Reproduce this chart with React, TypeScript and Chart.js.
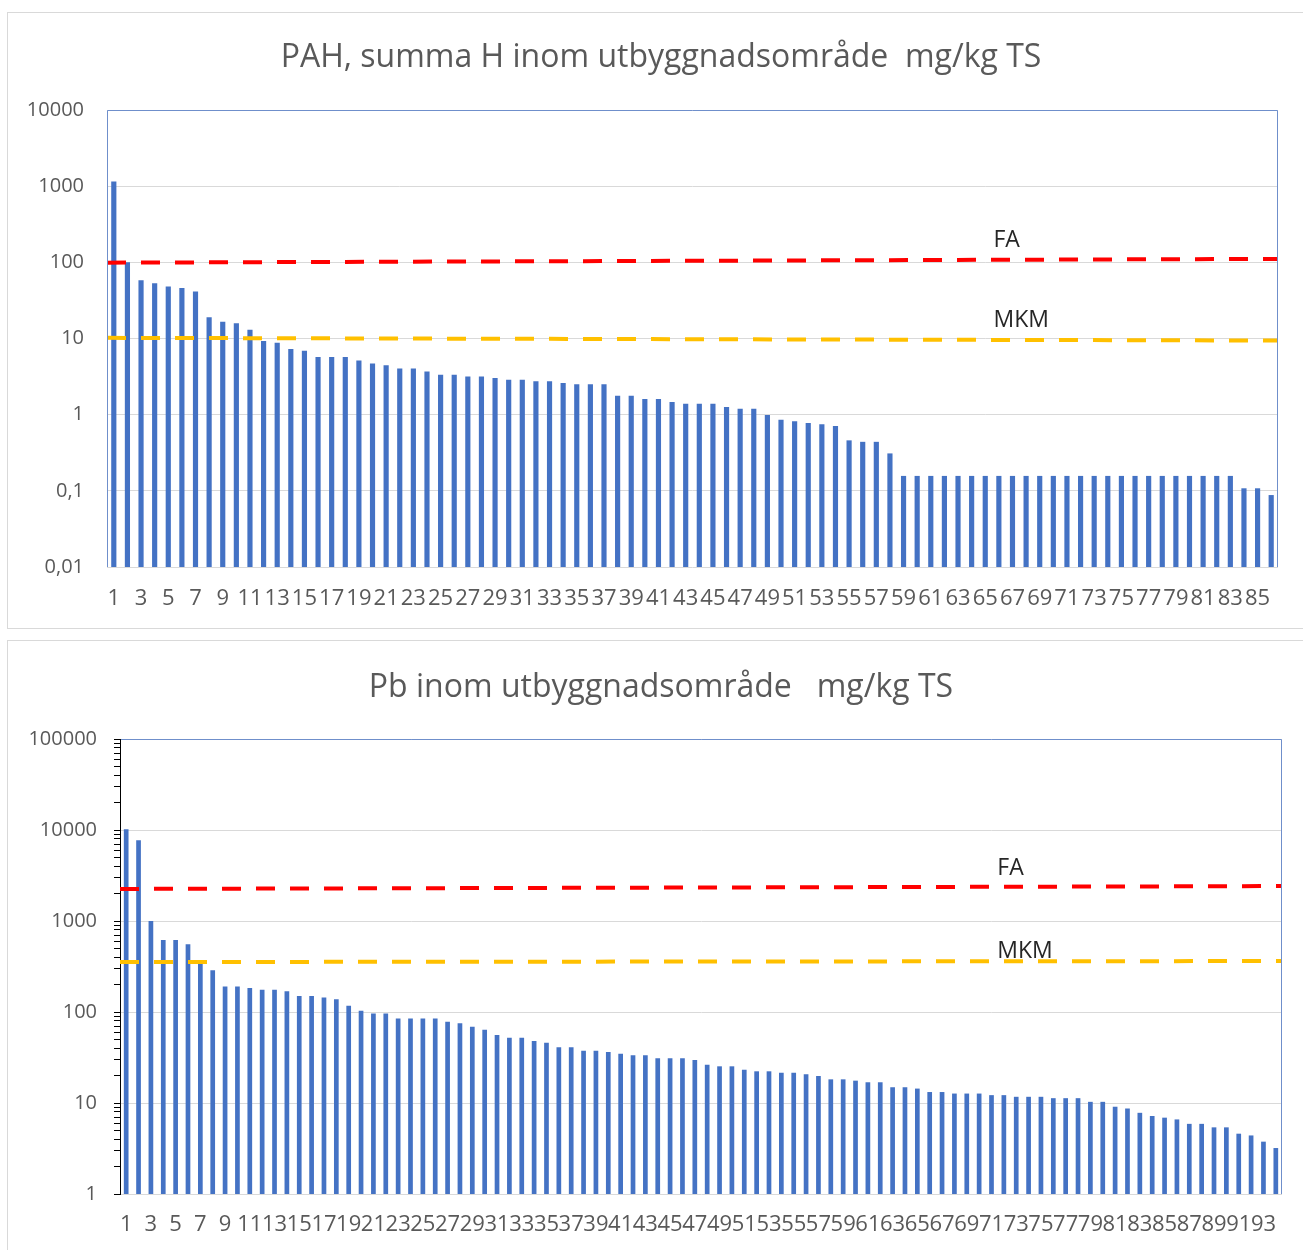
import React, { useEffect, useRef } from "react";
import { Chart, registerables } from "chart.js";

Chart.register(...registerables);

const FONT = "'Open Sans', 'Liberation Sans', sans-serif";
const TEXT_GREY = "#595959";

// ---------- PAH chart data ----------
const pahTitle = "PAH, summa H inom utbyggnadsområde  mg/kg TS";
const pahValues = [
  1150, 100, 58, 53, 48, 46, 41.5, 19, 16.6, 15.8,
  13, 9.3, 8.8, 7.3, 6.9, 5.7, 5.7, 5.7, 5.16, 4.7,
  4.45, 4.05, 4.05, 3.7, 3.35, 3.35, 3.18, 3.18, 3.03, 2.88,
  2.88, 2.74, 2.74, 2.61, 2.5, 2.5, 2.5, 1.77, 1.77, 1.61,
  1.61, 1.47, 1.39, 1.39, 1.39, 1.26, 1.2, 1.2, 0.99, 0.86,
  0.82, 0.78, 0.75, 0.71, 0.46, 0.44, 0.44, 0.31, 0.157, 0.157,
  0.157, 0.157, 0.157, 0.157, 0.157, 0.157, 0.157, 0.157, 0.157, 0.157,
  0.157, 0.157, 0.157, 0.157, 0.157, 0.157, 0.157, 0.157, 0.157, 0.157,
  0.157, 0.157, 0.157, 0.108, 0.108, 0.088,
];
const pahCategories = pahValues.map((_, i) => String(i + 1));
const pahYTicks = [0.01, 0.1, 1, 10, 100, 1000, 10000];
const pahFA = [99, 111]; // left end, right end
const pahMKM = [10.2, 9.4];

// ---------- Pb chart data ----------
const pbTitle = "Pb inom utbyggnadsområde   mg/kg TS";
const pbValues = [
  10200, 7700, 1000, 620, 620, 555, 337, 287, 191, 191,
  184, 176, 176, 169, 150, 150, 144, 138, 117, 103,
  96, 96, 85, 85, 85, 85, 78, 75, 69, 64,
  56, 52, 52, 48, 46, 41, 41, 37.6, 37.6, 36.3,
  34.8, 33.4, 33.4, 31, 31, 31, 29.7, 26.4, 25.3, 25.3,
  23.2, 22.3, 22.3, 21.5, 21.5, 20.7, 19.8, 18.2, 18.2, 17.6,
  16.9, 16.9, 14.9, 14.9, 14.4, 13.2, 13.2, 12.7, 12.7, 12.7,
  12.2, 12.2, 11.7, 11.7, 11.7, 11.3, 11.3, 11.3, 10.3, 10.3,
  9.1, 8.7, 7.8, 7.2, 6.9, 6.6, 5.9, 5.9, 5.4, 5.4,
  4.6, 4.4, 3.76, 3.2,
];
const pbCategories = pbValues.map((_, i) => String(i + 1));
const pbMajorTicks = [1, 10, 100, 1000, 10000, 100000];
const pbMinorSteps = [1, 2, 3, 4, 5, 6, 7, 8, 9];
const pbYTicks = pbMajorTicks
  .slice(0, -1)
  .flatMap((m) => pbMinorSteps.map((s) => m * s))
  .concat([pbMajorTicks[pbMajorTicks.length - 1]]);
const pbFA = [2250, 2420];
const pbMKM = [354, 363];

const isDecade = (v: number) => Math.abs(Math.log10(v) - Math.round(Math.log10(v))) < 1e-6;
const fmtDecade = (v: number) => {
  const e = Math.round(Math.log10(v));
  return e >= 0 ? String(Math.pow(10, e)) : "0," + "0".repeat(-e - 1) + "1";
};

type Spec = {
  title: string;
  categories: string[];
  values: number[];
  yMin: number;
  yMax: number;
  yTicks: number[];
  fa: number[];
  mkm: number[];
  width: number;
  height: number;
  left: number;
  top: number;
  titlePadTop: number;
  titlePadBottom: number;
  yWidth: number;
  yTickLength: number;
  yTickPadding: number;
  yBlackAxis: boolean;
  xHeight: number;
  xPadding: number;
  rightPad: number;
  labelFrac: number;
  faOffset: number;
  mkmOffset: number;
};

function LogBarChart({ spec }: { spec: Spec }) {
  const ref = useRef<HTMLCanvasElement>(null);
  useEffect(() => {
    const canvas = ref.current;
    if (!canvas) return;
    const decor = {
      id: "decor",
      afterLayout(chart: any) {
        // center the title over the whole canvas instead of the padded box
        const t = chart.titleBlock;
        if (t) {
          t.left += spec.rightPad / 2;
          t.right += spec.rightPad / 2;
        }
      },
      afterDraw(chart: any) {
        const { ctx, chartArea: a } = chart;
        const ys = chart.scales.y;
        ctx.save();
        ctx.strokeStyle = "#6F8FCB";
        ctx.lineWidth = 1;
        ctx.beginPath();
        if (!spec.yBlackAxis) {
          ctx.moveTo(a.left + 0.5, a.bottom);
          ctx.lineTo(a.left + 0.5, a.top + 0.5);
        } else {
          ctx.moveTo(a.left + 1, a.top + 0.5);
        }
        ctx.lineTo(a.right - 0.5, a.top + 0.5);
        ctx.lineTo(a.right - 0.5, a.bottom);
        ctx.stroke();
        const f = spec.labelFrac;
        const valAt = (p: number[]) =>
          Math.pow(10, Math.log10(p[0]) + (Math.log10(p[1]) - Math.log10(p[0])) * f);
        const x = a.left + f * (a.right - a.left);
        ctx.font = `23px ${FONT}`;
        ctx.fillStyle = "#262626";
        ctx.textAlign = "left";
        ctx.textBaseline = "middle";
        ctx.fillText("FA", x, ys.getPixelForValue(valAt(spec.fa)) - spec.faOffset);
        ctx.fillText("MKM", x, ys.getPixelForValue(valAt(spec.mkm)) - spec.mkmOffset);
        ctx.restore();
      },
    };
    const chart = new Chart(canvas, {
      type: "bar",
      data: {
        labels: spec.categories,
        datasets: [
          {
            type: "bar",
            data: spec.values,
            backgroundColor: "#4472C4",
            barPercentage: 0.38,
            categoryPercentage: 1,
            grouped: false,
            xAxisID: "x",
            yAxisID: "y",
            order: 2,
          } as any,
          {
            type: "line",
            data: [
              { x: 0, y: spec.fa[0] },
              { x: 1, y: spec.fa[1] },
            ],
            xAxisID: "xl",
            yAxisID: "y",
            borderColor: "#FF0000",
            borderWidth: 4,
            borderDash: [19, 15],
            pointRadius: 0,
            fill: false,
            tension: 0,
            order: 1,
          } as any,
          {
            type: "line",
            data: [
              { x: 0, y: spec.mkm[0] },
              { x: 1, y: spec.mkm[1] },
            ],
            xAxisID: "xl",
            yAxisID: "y",
            borderColor: "#FFC000",
            borderWidth: 4,
            borderDash: [19, 15],
            pointRadius: 0,
            fill: false,
            tension: 0,
            order: 1,
          } as any,
        ],
      },
      options: {
        responsive: false,
        animation: false,
        devicePixelRatio: 1,
        layout: { padding: { left: 0, right: spec.rightPad, top: 0, bottom: 0 } },
        plugins: {
          legend: { display: false },
          tooltip: { enabled: false },
          title: {
            display: true,
            text: spec.title,
            color: TEXT_GREY,
            font: { family: FONT, size: 32, weight: "normal" as any, lineHeight: 1.2 },
            padding: { top: spec.titlePadTop, bottom: spec.titlePadBottom },
          },
        },
        scales: {
          x: {
            type: "category",
            offset: true,
            grid: { display: false, drawTicks: false, offset: true },
            border: { display: false },
            ticks: {
              autoSkip: false,
              maxRotation: 0,
              minRotation: 0,
              padding: spec.xPadding,
              color: TEXT_GREY,
              font: { family: FONT, size: 22 },
              callback: (_v: any, i: number) => (i % 2 === 0 ? spec.categories[i] : ""),
            },
            afterFit: (s: any) => {
              s.height = spec.xHeight;
            },
          },
          xl: {
            type: "linear",
            position: "bottom",
            min: 0,
            max: 1,
            offset: false,
            grid: { offset: false },
            display: false,
          },
          y: {
            type: "logarithmic",
            min: spec.yMin,
            max: spec.yMax,
            afterBuildTicks: (s: any) => {
              s.ticks = spec.yTicks.map((v) => ({ value: v }));
            },
            grid: {
              color: (c: any) => (c.tick && isDecade(c.tick.value) ? "#D9D9D9" : "rgba(0,0,0,0)"),
              tickColor: "#000000",
              drawTicks: spec.yTickLength > 0,
              tickLength: spec.yTickLength,
            },
            border: { display: spec.yBlackAxis, color: "#000000", width: 1 },
            ticks: {
              padding: spec.yTickPadding,
              color: TEXT_GREY,
              font: { family: FONT, size: 20 },
              autoSkip: false,
              callback: (v: any) => (isDecade(Number(v)) ? fmtDecade(Number(v)) : ""),
            },
            afterFit: (s: any) => {
              s.width = spec.yWidth;
            },
          },
        },
      } as any,
      plugins: [decor],
    });
    return () => chart.destroy();
  }, [spec]);
  return (
    <canvas
      ref={ref}
      width={spec.width}
      height={spec.height}
      style={{ position: "absolute", left: spec.left, top: spec.top, width: spec.width, height: spec.height }}
    />
  );
}

const pahSpec: Spec = {
  title: pahTitle,
  categories: pahCategories,
  values: pahValues,
  yMin: 0.01,
  yMax: 10000,
  yTicks: pahYTicks,
  fa: pahFA,
  mkm: pahMKM,
  width: 1306,
  height: 616,
  left: 8,
  top: 12,
  titlePadTop: 27,
  titlePadBottom: 32.6,
  yWidth: 99,
  yTickLength: 0,
  yTickPadding: 23,
  yBlackAxis: false,
  xHeight: 61,
  xPadding: 19,
  rightPad: 36,
  labelFrac: 0.757,
  faOffset: 19,
  mkmOffset: 19,
};

const pbSpec: Spec = {
  title: pbTitle,
  categories: pbCategories,
  values: pbValues,
  yMin: 1,
  yMax: 100000,
  yTicks: pbYTicks,
  fa: pbFA,
  mkm: pbMKM,
  width: 1306,
  height: 610,
  left: 8,
  top: 640,
  titlePadTop: 29,
  titlePadBottom: 31.6,
  yWidth: 112,
  yTickLength: 6,
  yTickPadding: 17,
  yBlackAxis: true,
  xHeight: 56,
  xPadding: 18,
  rightPad: 32,
  labelFrac: 0.755,
  faOffset: 18,
  mkmOffset: 10,
};

export default function App() {
  return (
    <div
      style={{
        position: "absolute",
        left: 0,
        top: 0,
        width: 1303,
        height: 1250,
        overflow: "hidden",
        background: "#FFFFFF",
      }}
    >
      <div
        style={{
          position: "absolute",
          left: 7,
          top: 12,
          width: 1320,
          height: 617,
          border: "1px solid #D9D9D9",
          boxSizing: "border-box",
        }}
      />
      <div
        style={{
          position: "absolute",
          left: 7,
          top: 640,
          width: 1320,
          height: 640,
          border: "1px solid #D9D9D9",
          boxSizing: "border-box",
        }}
      />
      <LogBarChart spec={pahSpec} />
      <LogBarChart spec={pbSpec} />
    </div>
  );
}
